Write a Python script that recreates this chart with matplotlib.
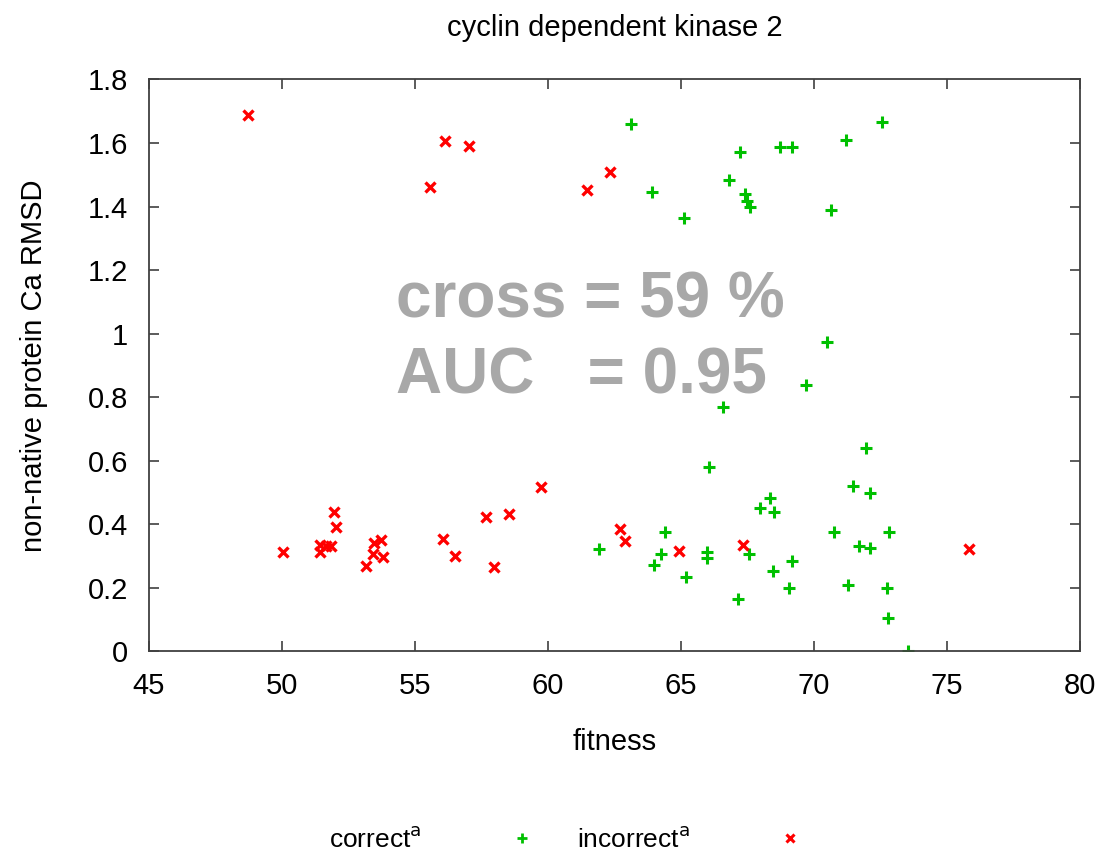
import numpy as np
import matplotlib
matplotlib.use("Agg")
import matplotlib.pyplot as plt
from matplotlib.lines import Line2D
from matplotlib.ticker import FormatStrFormatter

plt.rcParams['font.family'] = ['Liberation Sans', 'DejaVu Sans']

# correct poses (green +)
fit_ok = [63.12, 63.92, 65.12, 66.80, 67.22, 67.39, 67.49, 67.59, 68.73, 69.16,
          70.65, 71.20, 72.54,
          61.92, 64.40, 64.25, 63.97, 65.18, 66.07, 65.97, 65.97, 67.13, 67.56,
          67.97, 68.33, 68.48, 68.47, 69.17, 69.07, 70.75, 71.45, 71.94, 72.09,
          71.68, 72.09, 72.83, 71.27, 72.73, 72.79, 73.53,
          70.48, 69.70, 66.59]
rmsd_ok = [1.661, 1.447, 1.365, 1.485, 1.572, 1.439, 1.419, 1.400, 1.587, 1.587,
           1.389, 1.610, 1.665,
           0.323, 0.374, 0.306, 0.272, 0.234, 0.579, 0.312, 0.294, 0.163, 0.306,
           0.450, 0.482, 0.439, 0.253, 0.283, 0.198, 0.377, 0.521, 0.641, 0.499,
           0.330, 0.326, 0.377, 0.210, 0.198, 0.105, 0.002,
           0.973, 0.839, 0.769]

# incorrect poses (red x)
fit_bad = [48.71, 56.13, 57.04, 55.58, 61.45, 62.33,
           50.05, 51.43, 51.43, 51.65, 51.86, 51.95, 52.02,
           53.16, 53.43, 53.46, 53.71, 53.81,
           56.04, 56.50, 57.66, 57.98, 58.53, 59.74,
           62.71, 62.91, 64.94, 67.34, 75.84]
rmsd_bad = [1.687, 1.605, 1.590, 1.462, 1.451, 1.509,
            0.311, 0.336, 0.313, 0.330, 0.331, 0.440, 0.392,
            0.268, 0.306, 0.340, 0.351, 0.296,
            0.354, 0.299, 0.424, 0.264, 0.432, 0.517,
            0.385, 0.346, 0.316, 0.335, 0.323]

cross_pct = 59
auc = 0.95

fig = plt.figure(figsize=(10.99, 8.51), dpi=100)
ax = fig.add_axes([0.1356, 0.2347, 0.8471, 0.6719])

green = '#00c000'
red = '#ff0000'
ax.plot(fit_ok, rmsd_ok, ls='none', marker='+', ms=9, mew=2.2, color=green)
ax.plot(fit_bad, rmsd_bad, ls='none', marker='x', ms=7.5, mew=2.4, color=red)

ax.set_xlim(45, 80)
ax.set_ylim(0, 1.8)
ax.set_xticks(np.arange(45, 81, 5))
ax.set_yticks(np.arange(0, 1.81, 0.2))
ax.yaxis.set_major_formatter(FormatStrFormatter('%g'))
ax.tick_params(direction='in', length=7, width=1.2, top=True, right=True,
               labelsize=21, color='#404040')
ax.tick_params(axis='x', pad=15)
ax.tick_params(axis='y', pad=15)
for s in ax.spines.values():
    s.set_color('#404040')
    s.set_linewidth(1.3)

ax.set_title('cyclin dependent kinase 2', fontsize=21, pad=31)
ax.set_xlabel('fitness', fontsize=21, labelpad=20)
ax.set_ylabel('non-native protein Ca RMSD', fontsize=21, labelpad=29)

ax.text(54.3, 1.050, 'cross = %d %%' % cross_pct, fontsize=46, fontweight='bold',
        color='#a8a8a8', va='baseline', ha='left')
ax.text(54.3, 0.810, 'AUC   = %.2f' % auc, fontsize=46, fontweight='bold',
        color='#a8a8a8', va='baseline', ha='left')

handles = [Line2D([], [], ls='none', marker='+', ms=7.5, mew=2, color=green),
           Line2D([], [], ls='none', marker='x', ms=6, mew=2.2, color=red)]
ax.legend(handles, [r'correct$^{\mathrm{a}}$', r'incorrect$^{\mathrm{a}}$'],
          loc='center', bbox_to_anchor=(0.448, -0.329), ncol=2, frameon=False,
          markerfirst=False, fontsize=19, handlelength=1, handletextpad=3.3,
          columnspacing=1.6)

fig.savefig('out.png', dpi=100)
